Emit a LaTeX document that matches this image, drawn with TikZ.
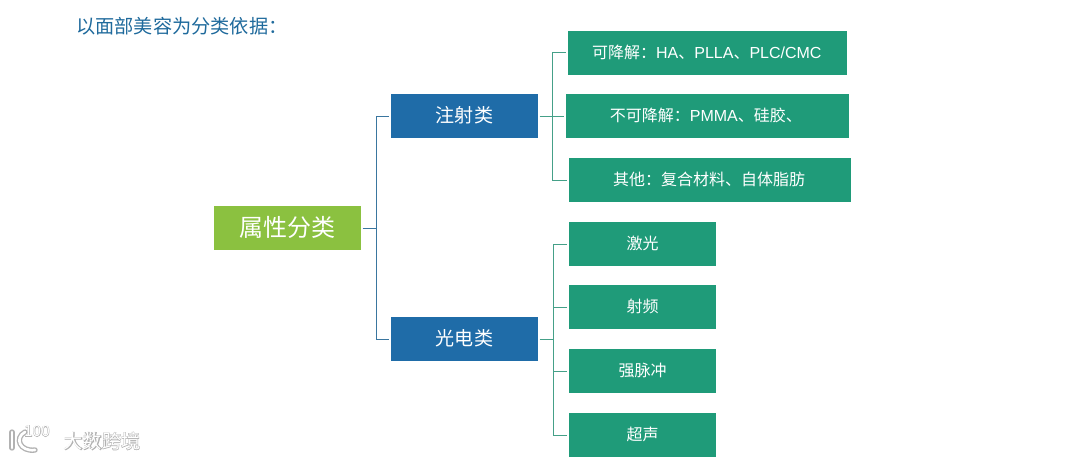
\documentclass[tikz,border=0pt]{standalone}
\usepackage{fontspec}
\setmainfont{Liberation Sans}
\newfontfamily\cjk{Noto Sans CJK SC}
\newfontfamily\cjkglow[FakeBold=5]{Noto Sans CJK SC}
\newcommand{\lat}[1]{{\rmfamily #1}}
\definecolor{rootgreen}{HTML}{8BC140}
\definecolor{catblue}{HTML}{1F6CA8}
\definecolor{leafgreen}{HTML}{1F9B79}
\definecolor{titleblue}{HTML}{1F6A9C}
\definecolor{catline}{HTML}{3A769F}
\definecolor{leafline}{HTML}{45A088}

\begin{document}
\begin{tikzpicture}[x=0.75pt, y=-0.75pt,
	basebox/.style={rectangle, inner sep=0pt, minimum height=33pt, text=white, font=\cjk},
	rootbox/.style={basebox, fill=rootgreen, minimum width=110.25pt, text depth=2pt, font=\cjk\fontsize{18}{20}\selectfont},
	catbox/.style={basebox, fill=catblue, minimum width=110.25pt, text depth=2.5pt, font=\cjk\fontsize{14.3}{16}\selectfont},
	leafbox/.style={basebox, fill=leafgreen, text depth=1.9pt, font=\cjk\fontsize{12}{14}\selectfont},
	catlink/.style={draw=catline, line width=0.75pt},
	leaflink/.style={draw=leafline, line width=0.75pt}]
\useasboundingbox (0, 0) rectangle (1066, 460);

\node [anchor=west, text=titleblue, font=\cjk\fontsize{14.4}{16}\selectfont, inner sep=0pt] (title) at (76, 26.5) {以面部美容为分类依据：};

\node [rootbox] (attr) at (287.5, 228) {属性分类};
\node [catbox] (inject) at (464.5, 116) {注射类};
\node [catbox] (photo) at (464.5, 339) {光电类};

\node [leafbox, minimum width=209.25pt] (degrade) at (707.5, 53) {\hspace{-1pt}可降解：\lat{HA}、\lat{PLLA}、\lat{PLC/CMC}};
\node [leafbox, minimum width=212.25pt] (nondegrade) at (707.5, 116) {\hspace{-2.5pt}不可降解：\lat{PMMA}、硅胶、};
\node [leafbox, minimum width=211.5pt] (other) at (710, 180) {\hspace{-1.5pt}其他：复合材料、自体脂肪};
\node [leafbox, minimum width=110.25pt] (laser) at (642.5, 244) {激光};
\node [leafbox, minimum width=110.25pt] (radio) at (642.5, 307) {射频};
\node [leafbox, minimum width=110.25pt] (pulse) at (642.5, 371) {强脉冲};
\node [leafbox, minimum width=110.25pt] (sound) at (642.5, 435) {超声};

\coordinate (attrfork) at (376, 228);
\coordinate (injectfork) at (552.5, 116);
\coordinate (photofork) at (553, 339);

\draw[catlink, shorten <=1pt] (attr.east) -- (attrfork);
\draw[catlink, shorten >=1pt] (attrfork) |- (inject.west);
\draw[catlink, shorten >=1pt] (attrfork) |- (photo.west);

\draw[leaflink, shorten <=1pt] (inject.east) -- (injectfork);
\draw[leaflink, shorten >=1pt] (injectfork) |- (degrade.west);
\draw[leaflink, shorten >=1pt] (injectfork) |- (nondegrade.west);
\draw[leaflink, shorten >=1pt] (injectfork) |- (other.west);

\draw[leaflink, shorten <=1pt] (photo.east) -- (photofork);
\draw[leaflink, shorten >=1pt] (photofork) |- (laser.west);
\draw[leaflink, shorten >=1pt] (photofork) |- (radio.west);
\draw[leaflink, shorten >=1pt] (photofork) |- (pulse.west);
\draw[leaflink, shorten >=1pt] (photofork) |- (sound.west);

% watermark
\draw[black!30, line width=4pt, line cap=round] (12, 432) -- (12, 448);
\draw[black!30, line width=4pt, line cap=round] (25, 432) .. controls (14, 438) and (20, 452) .. (35, 450);
\draw[white, line width=2pt, line cap=round] (12, 432) -- (12, 448);
\draw[white, line width=2pt, line cap=round] (25, 432) .. controls (14, 438) and (20, 452) .. (35, 450);
\node [text=black!30, font=\cjkglow\fontsize{11.5}{12}\selectfont, inner sep=0pt] (logoglow) at (37, 431) {100};
\node [text=white, font=\cjk\fontsize{11.5}{12}\selectfont, inner sep=0pt] (logo) at (37, 431) {100};
\node [text=black!30, font=\cjkglow\fontsize{14.3}{16}\selectfont, inner sep=0pt] (markglow) at (102, 441) {大数跨境};
\node [text=white, font=\cjk\fontsize{14.3}{16}\selectfont, inner sep=0pt] (mark) at (102, 441) {大数跨境};
\end{tikzpicture}
\end{document}
